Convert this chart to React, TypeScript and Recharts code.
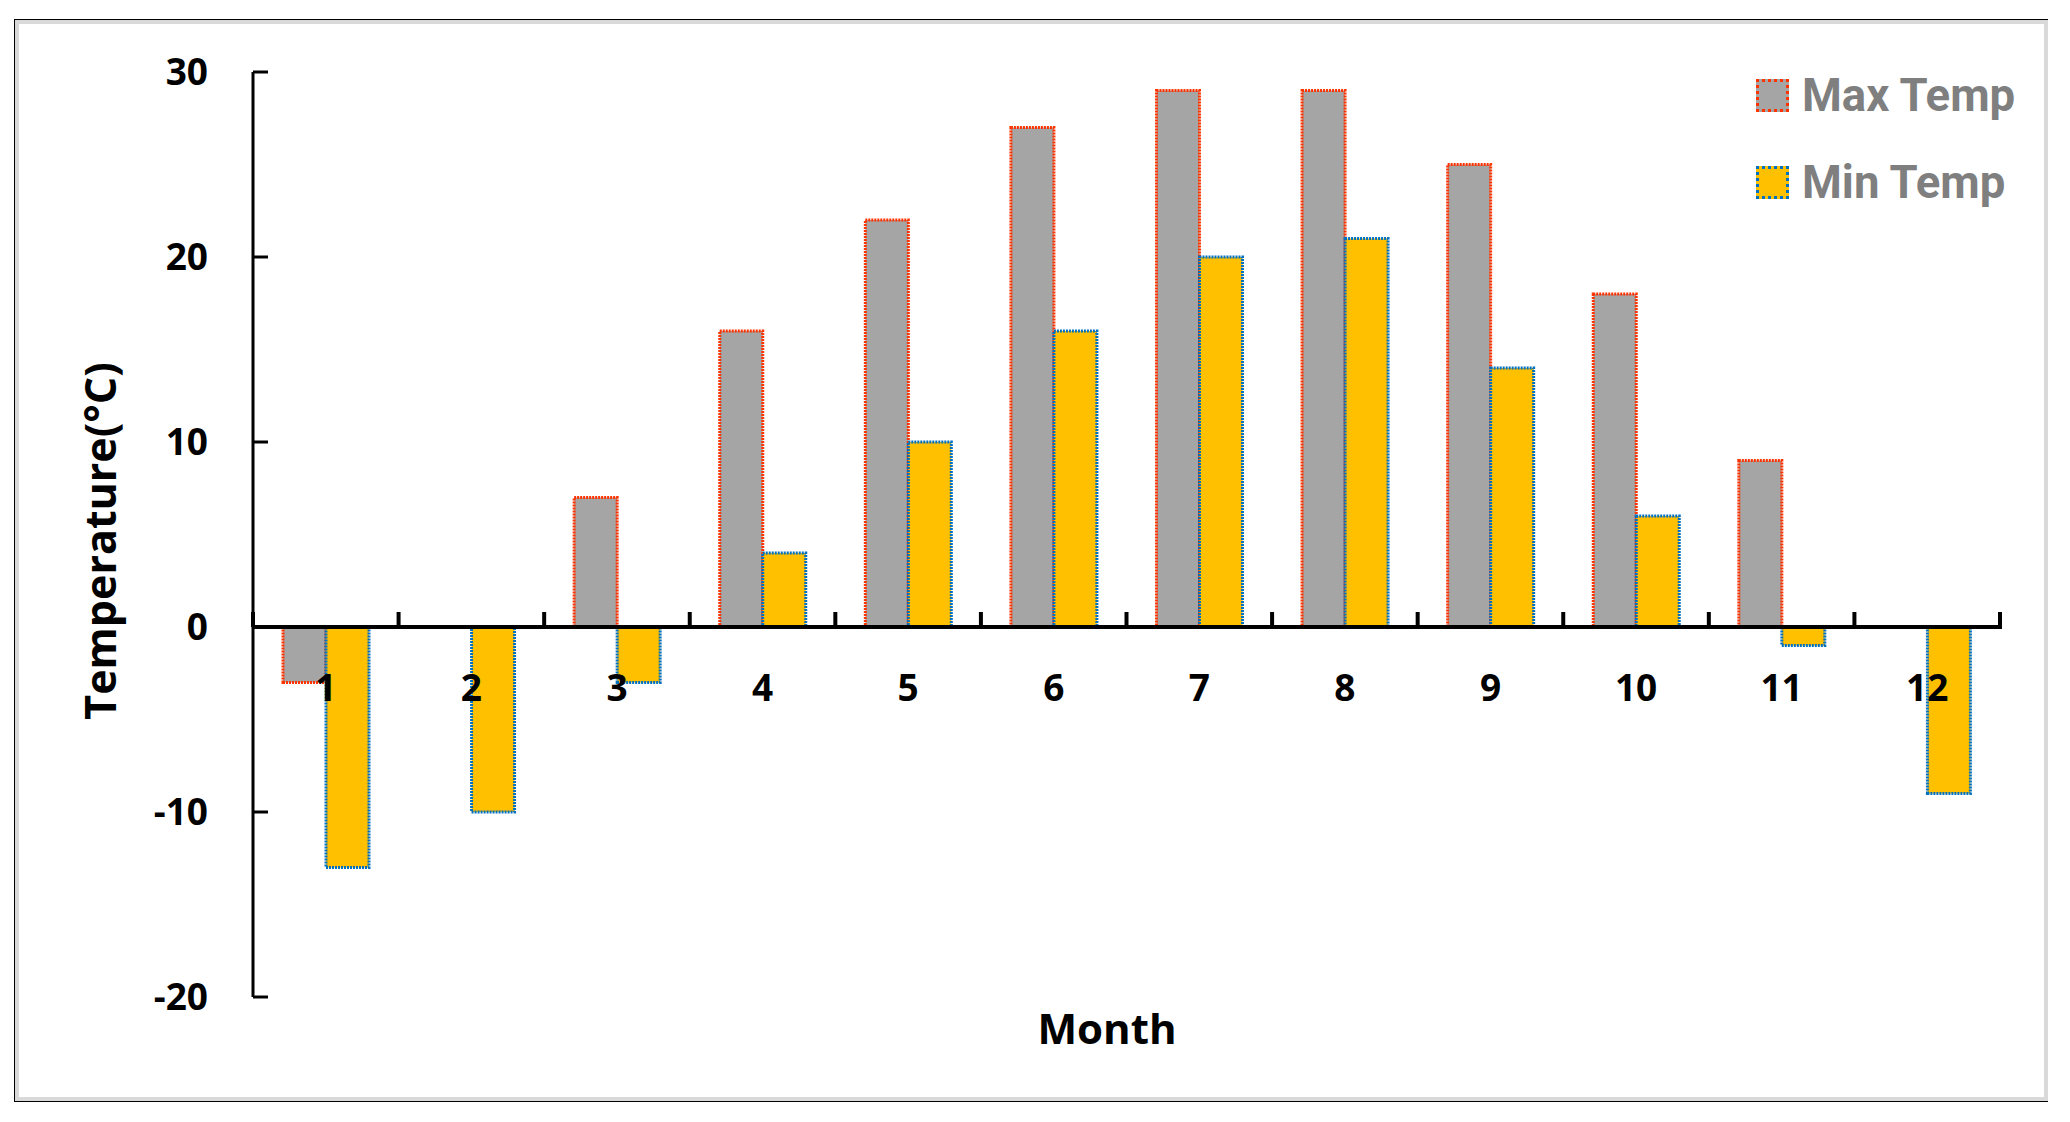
import React from 'react';
import { BarChart, Bar, XAxis, YAxis, ReferenceLine, Legend } from 'recharts';

const months = ['1', '2', '3', '4', '5', '6', '7', '8', '9', '10', '11', '12'];
const maxTemp = [-3, 0, 7, 16, 22, 27, 29, 29, 25, 18, 9, 0];
const minTemp = [-13, -10, -3, 4, 10, 16, 20, 21, 14, 6, -1, -9];
const yTicks = [-20, -10, 0, 10, 20, 30];

const data = months.map((m, i) => ({ month: m, max: maxTemp[i], min: minTemp[i] }));

const W = 2070;
const H = 1122;
const TOP = 72;
const BOTTOM = 997;
const LEFT = 253;
const RIGHT = 2000;
const Y_MIN = -20;
const Y_MAX = 30;
const ZERO_Y = TOP + ((BOTTOM - TOP) * (Y_MAX - 0)) / (Y_MAX - Y_MIN);
const BAND = (RIGHT - LEFT) / months.length;

const FONT = '"Open Sans", "Noto Sans", sans-serif';

const XTick = (props: any) => {
  const { x, y, payload, index } = props;
  const baseline = y - (BOTTOM - ZERO_Y) + 74;
  const lx = x - BAND / 2;
  const rx = x + BAND / 2;
  return (
    <g>
      <line x1={lx} x2={lx} y1={ZERO_Y} y2={ZERO_Y - 15} stroke="#000" strokeWidth={4} />
      {index === months.length - 1 && (
        <line x1={rx} x2={rx} y1={ZERO_Y + 2} y2={ZERO_Y - 15} stroke="#000" strokeWidth={4} />
      )}
      <text x={x} y={baseline} textAnchor="middle" fontFamily={FONT} fontWeight={700} fontSize={37} fill="#000">
        {payload.value}
      </text>
    </g>
  );
};

const YTick = (props: any) => {
  const { x, y, payload } = props;
  return (
    <g>
      <line x1={x} x2={x + 15} y1={y} y2={y} stroke="#000" strokeWidth={3} />
      <text x={x - 45} y={y + 13} textAnchor="end" fontFamily={FONT} fontWeight={700} fontSize={37} fill="#000">
        {payload.value}
      </text>
    </g>
  );
};

const legendItems = [
  { label: 'Max Temp', fill: '#a5a5a5', stroke: '#ff3300' },
  { label: 'Min Temp', fill: '#ffc000', stroke: '#0070c0' },
];

const LegendContent = () => (
  <div>
    {legendItems.map((it) => (
      <div key={it.label} style={{ display: 'flex', alignItems: 'center', height: 87 }}>
        <div
          style={{
            width: 27,
            height: 27,
            background: it.fill,
            border: `3px dotted ${it.stroke}`,
            marginRight: 13,
          }}
        />
        <span
          style={{
            fontFamily: 'Roboto, sans-serif',
            fontWeight: 700,
            fontSize: 45.5,
            color: '#7f7f7f',
            lineHeight: '45px',
          }}
        >
          {it.label}
        </span>
      </div>
    ))}
  </div>
);

export default function App() {
  return (
    <div style={{ position: 'absolute', left: 0, top: 0, width: W, height: H, background: '#fff' }}>
      <div
        style={{
          position: 'absolute',
          left: 14,
          top: 19,
          width: 2034,
          height: 1083,
          boxSizing: 'border-box',
          borderTop: '1px solid #000',
          borderLeft: '1px solid #000',
          borderBottom: '1px solid #000',
          boxShadow: 'inset 0 0 0 4px #d9d9d9',
        }}
      />
      <div style={{ position: 'absolute', left: 0, top: 0 }}>
        <BarChart
          width={W}
          height={H}
          data={data}
          margin={{ top: TOP, right: W - RIGHT, bottom: H - BOTTOM - 30, left: 0 }}
          barCategoryGap="20.6%"
          barGap={0}
        >
          <XAxis
            dataKey="month"
            height={30}
            axisLine={false}
            tickLine={false}
            tickSize={0}
            tickMargin={0}
            tick={<XTick />}
            interval={0}
          />
          <YAxis
            width={LEFT}
            domain={[Y_MIN, Y_MAX]}
            ticks={yTicks}
            interval={0}
            axisLine={{ stroke: '#000', strokeWidth: 3 }}
            tickLine={false}
            tickSize={0}
            tickMargin={0}
            tick={<YTick />}
            allowDataOverflow
          />
          <Legend
            layout="vertical"
            align="center"
            verticalAlign="middle"
            content={<LegendContent />}
            wrapperStyle={{ position: 'absolute', left: 1756, top: 52, width: 300 }}
          />
          <Bar dataKey="max" name="Max Temp" fill="#a5a5a5" stroke="#ff3300" strokeWidth={3} strokeDasharray="2 1" isAnimationActive={false} />
          <Bar dataKey="min" name="Min Temp" fill="#ffc000" stroke="#0070c0" strokeWidth={3} strokeDasharray="2 1" isAnimationActive={false} />
          <ReferenceLine y={0} stroke="#000" strokeWidth={4} ifOverflow="extendDomain" />
          <text x={99} y={541} transform="rotate(-90 99 541)" textAnchor="middle" dominantBaseline="central" fontFamily={FONT} fontWeight={700} fontSize={43} fill="#000">
            Temperature(°C)
          </text>
          <text x={1107} y={1044} textAnchor="middle" fontFamily={FONT} fontWeight={700} fontSize={42} fill="#000">
            Month
          </text>
        </BarChart>
      </div>
    </div>
  );
}
